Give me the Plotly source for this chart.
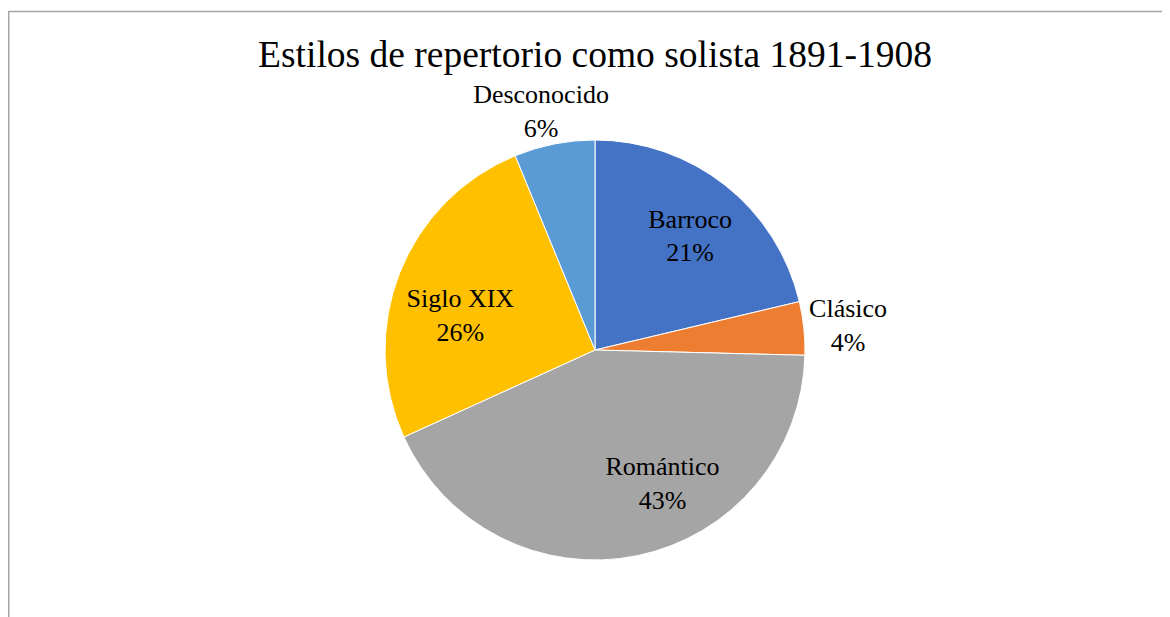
import plotly.graph_objects as go

categories = ["Barroco", "Clásico", "Romántico", "Siglo XIX", "Desconocido"]
values = [21.3, 4.1, 42.8, 25.6, 6.2]
colors = ["#4472C4", "#ED7D31", "#A5A5A5", "#FFC000", "#5B9BD5"]
# label placement (style): distance as fraction of radius, and angular nudge from slice mid-angle
label_radius = [0.70, 1.21, 0.72, 0.66, 1.155]
label_angle_shift = [2.0, 0.8, -15.0, -8.0, -1.7]
title_text = "Estilos de repertorio como solista 1891-1908"

W, H = 1170, 617
# page body adds an 8px offset, so figure coords = screen coords - 8
cx, cy, R = 587, 342, 210
RMAX = 1.3  # radial range extends beyond the pie so outside labels are not clipped
Rd = R * RMAX
dom_x = [(cx - Rd) / W, (cx + Rd) / W]
dom_y = [(H - cy - Rd) / H, (H - cy + Rd) / H]

total = sum(values)
mid_angles, widths = [], []
acc = 0.0
for v in values:
    mid_angles.append((acc + v / 2) / total * 360)
    widths.append(v / total * 360)
    acc += v
pct_texts = [f"{round(v / total * 100)}%" for v in values]
label_texts = [f"{c}<br>{p}" for c, p in zip(categories, pct_texts)]
label_angles = [a + s for a, s in zip(mid_angles, label_angle_shift)]

font = dict(family="Liberation Serif", size=26, color="black")

fig = go.Figure()
fig.add_trace(go.Barpolar(
    r=[1] * len(values),
    theta=mid_angles,
    width=widths,
    marker=dict(color=colors, line=dict(color="white", width=1)),
    customdata=pct_texts,
    text=categories,
    hovertemplate="%{text}: %{customdata}<extra></extra>",
    showlegend=False,
))
fig.add_trace(go.Scatterpolar(
    r=label_radius, theta=label_angles, mode="text",
    text=label_texts, textposition="middle center", textfont=font,
    showlegend=False, hoverinfo="skip", cliponaxis=False,
))

fig.update_layout(
    width=W, height=H,
    margin=dict(l=0, r=0, t=0, b=0),
    paper_bgcolor="white",
    plot_bgcolor="white",
    polar=dict(
        domain=dict(x=dom_x, y=dom_y),
        bgcolor="rgba(0,0,0,0)",
        hole=0,
        radialaxis=dict(range=[0, RMAX], visible=False, showgrid=False, showline=False),
        angularaxis=dict(rotation=90, direction="clockwise", visible=False, showgrid=False,
                         showline=False, ticks=""),
    ),
    title=dict(text=title_text, x=cx / W, xanchor="center", y=1 - 46 / H, yanchor="middle",
               yref="container",
               font=dict(family="Liberation Serif", size=37.5, color="black")),
    shapes=[dict(type="rect", xref="paper", yref="paper",
                 x0=0.75 / W, x1=1.02, y0=-0.02, y1=1 - 3.5 / H,
                 line=dict(color="#A6A6A6", width=1.5), fillcolor="rgba(0,0,0,0)", layer="below")],
)

fig.write_html("out.html")
